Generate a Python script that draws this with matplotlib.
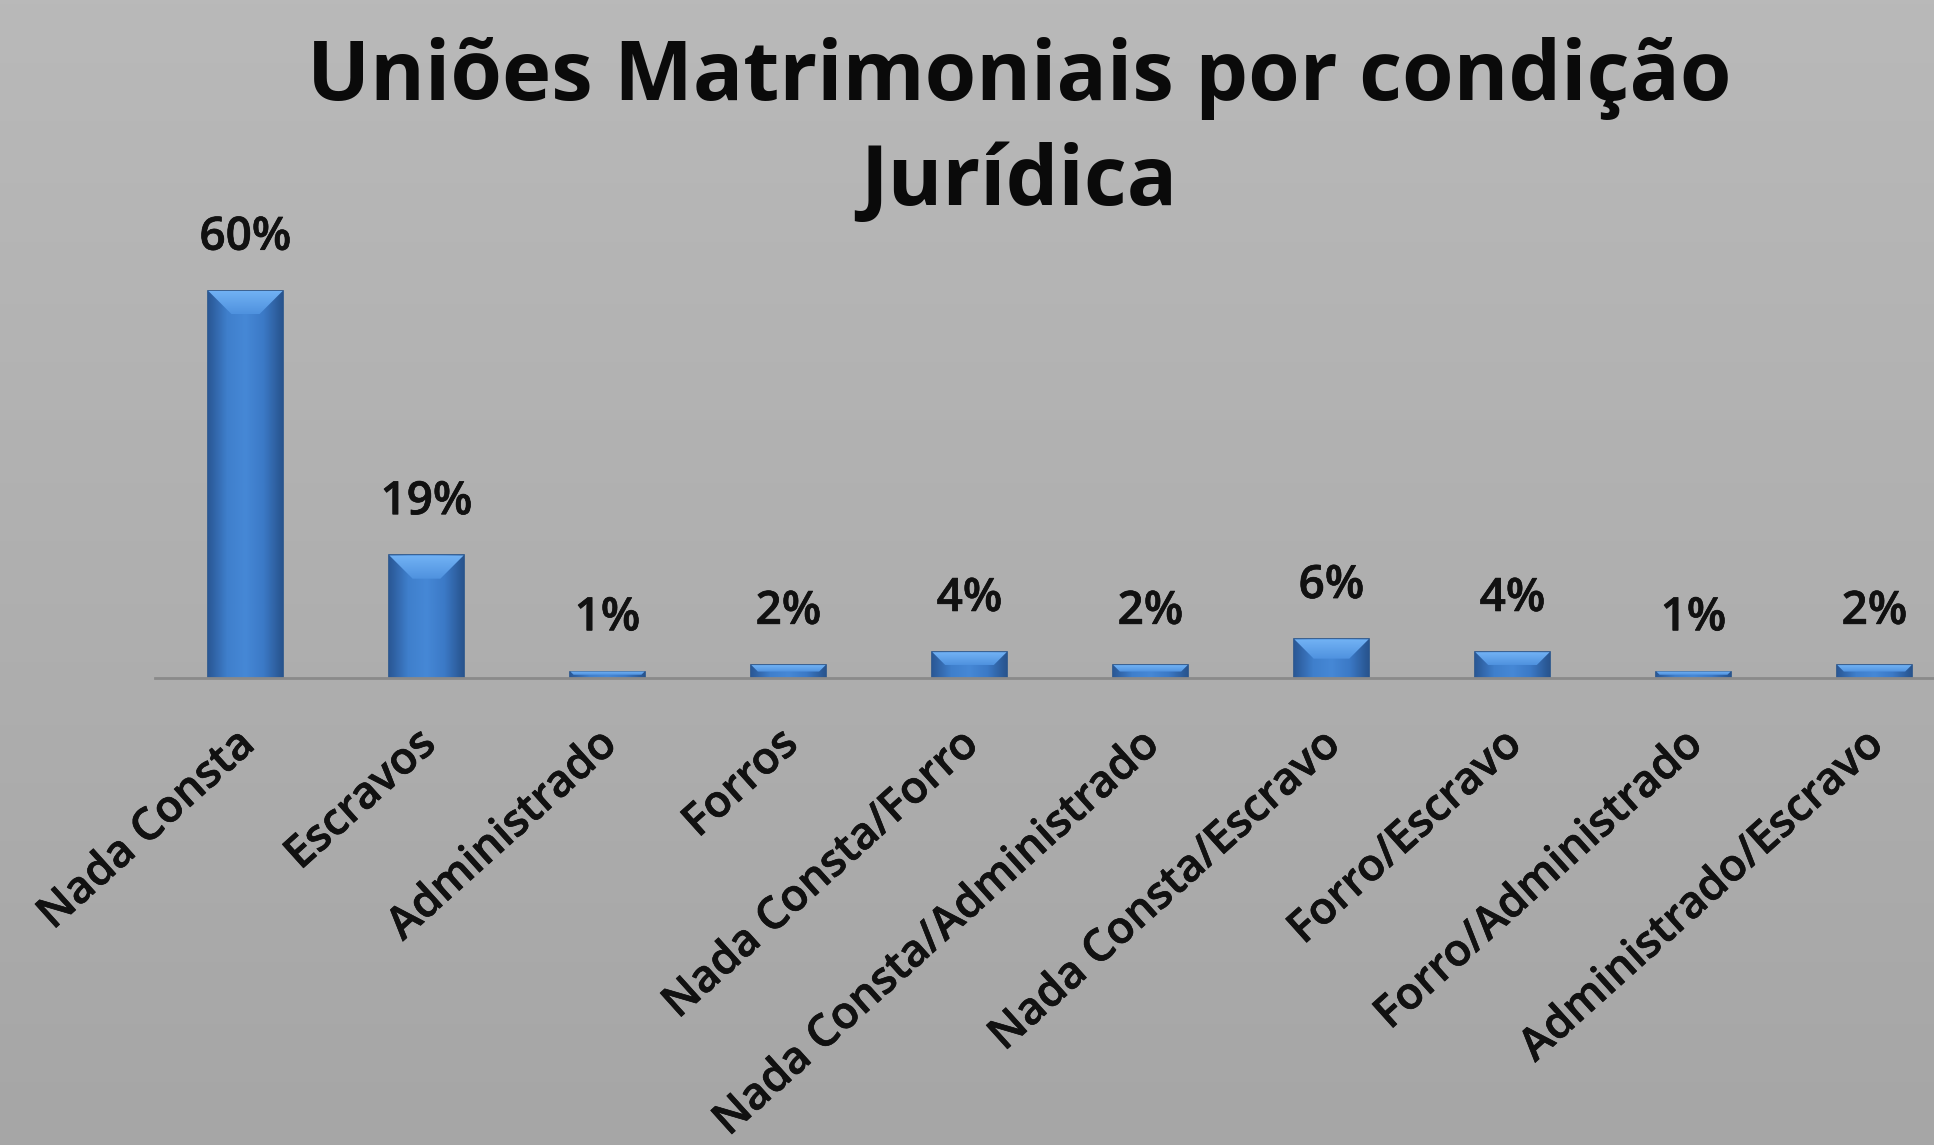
import matplotlib.pyplot as plt
import matplotlib.patheffects as pe
import numpy as np
from matplotlib.colors import LinearSegmentedColormap
from matplotlib.patches import Polygon
from matplotlib.transforms import ScaledTranslation

plt.rcParams['font.family'] = ['Open Sans', 'DejaVu Sans']

categorias = ['Nada Consta', 'Escravos', 'Administrado', 'Forros',
              'Nada Consta/Forro', 'Nada Consta/Administrado',
              'Nada Consta/Escravo', 'Forro/Escravo',
              'Forro/Administrado', 'Administrado/Escravo']
valores = [60, 19, 1, 2, 4, 2, 6, 4, 1, 2]
rotulos = ['60%', '19%', '1%', '2%', '4%', '2%', '6%', '4%', '1%', '2%']

titulo1 = 'Uniões Matrimoniais por condição'
titulo2 = 'Jurídica'

W, H = 1934, 1145
fig = plt.figure(figsize=(W / 100, H / 100), dpi=100)

# fundo cinza em degradê
bg = fig.add_axes([0, 0, 1, 1], zorder=-5)
cm_bg = LinearSegmentedColormap.from_list('bg', ['#b9b9b9', '#a6a6a6'])
bg.imshow(np.linspace(0, 1, 256).reshape(-1, 1), cmap=cm_bg, aspect='auto',
          extent=[0, 1, 0, 1])
bg.set_axis_off()

px_por_pct = 6.45
ymax = 65
ax = fig.add_axes([155 / W, 1 - 678 / H, 1810 / W, ymax * px_por_pct / H])
ax.set_facecolor('none')

x = np.arange(len(categorias))
larg = 0.41
barras = ax.bar(x, valores, width=larg, color='#3a78c4', edgecolor='#26538c',
                linewidth=1.2, zorder=3)

cm_bar = LinearSegmentedColormap.from_list(
    'barra', ['#2a5896', '#3f7fcc', '#4688d6', '#3b79c6', '#28548e'])
cm_bisel = LinearSegmentedColormap.from_list('bisel', ['#4f92df', '#72b2f4'])
grad = np.linspace(0, 1, 64).reshape(1, -1)
px_por_x = 1810 / 10
for b, v in zip(barras, valores):
    x0 = b.get_x()
    im = ax.imshow(grad, cmap=cm_bar, aspect='auto', zorder=4,
                   extent=[x0, x0 + larg, 0, v])
    im.set_clip_path(b)
    # bisel no topo
    bh = min(3.6, v * 0.5)
    ins = bh * px_por_pct / px_por_x
    topo = Polygon([(x0, v), (x0 + larg, v), (x0 + larg - ins, v - bh),
                    (x0 + ins, v - bh)], closed=True, facecolor='none',
                   edgecolor='none', zorder=5)
    ax.add_patch(topo)
    imb = ax.imshow(np.linspace(0, 1, 32).reshape(-1, 1), cmap=cm_bisel,
                    aspect='auto', zorder=5, origin='lower',
                    extent=[x0, x0 + larg, v - bh, v])
    imb.set_clip_path(topo)

engrossar = [pe.withStroke(linewidth=0.5, foreground='#111111')]

for xi, v, r in zip(x, valores, rotulos):
    ax.annotate(r, (xi, v), xytext=(0, 38), textcoords='offset points',
                ha='center', va='center', fontsize=33, fontweight='semibold',
                color='#111111', path_effects=engrossar)

ax.set_xlim(-0.5, 9.5)
ax.set_ylim(0, ymax)
ax.set_yticks([])
for s in ['top', 'right', 'left']:
    ax.spines[s].set_visible(False)
ax.spines['bottom'].set_color('#8a8a8a')
ax.spines['bottom'].set_linewidth(2)
ax.spines['bottom'].set_zorder(6)

ax.set_xticks(x)
ax.set_xticklabels(categorias, rotation=42, ha='right', va='center',
                   rotation_mode='anchor', fontsize=32, fontweight='semibold',
                   color='#111111')
ax.tick_params(axis='x', length=0, pad=0)
desloc = ScaledTranslation(4 / 100, -60 / 100, fig.dpi_scale_trans)
for lb in ax.get_xticklabels():
    lb.set_transform(lb.get_transform() + desloc)
    lb.set_path_effects(engrossar)

fig.text(1019 / W, 1 - 78 / H, titulo1, ha='center', va='center',
         fontsize=60, fontweight='bold', color='#0a0a0a')
fig.text(1019 / W, 1 - 183 / H, titulo2, ha='center', va='center',
         fontsize=60, fontweight='bold', color='#0a0a0a')

fig.savefig('out.png', dpi=100)
